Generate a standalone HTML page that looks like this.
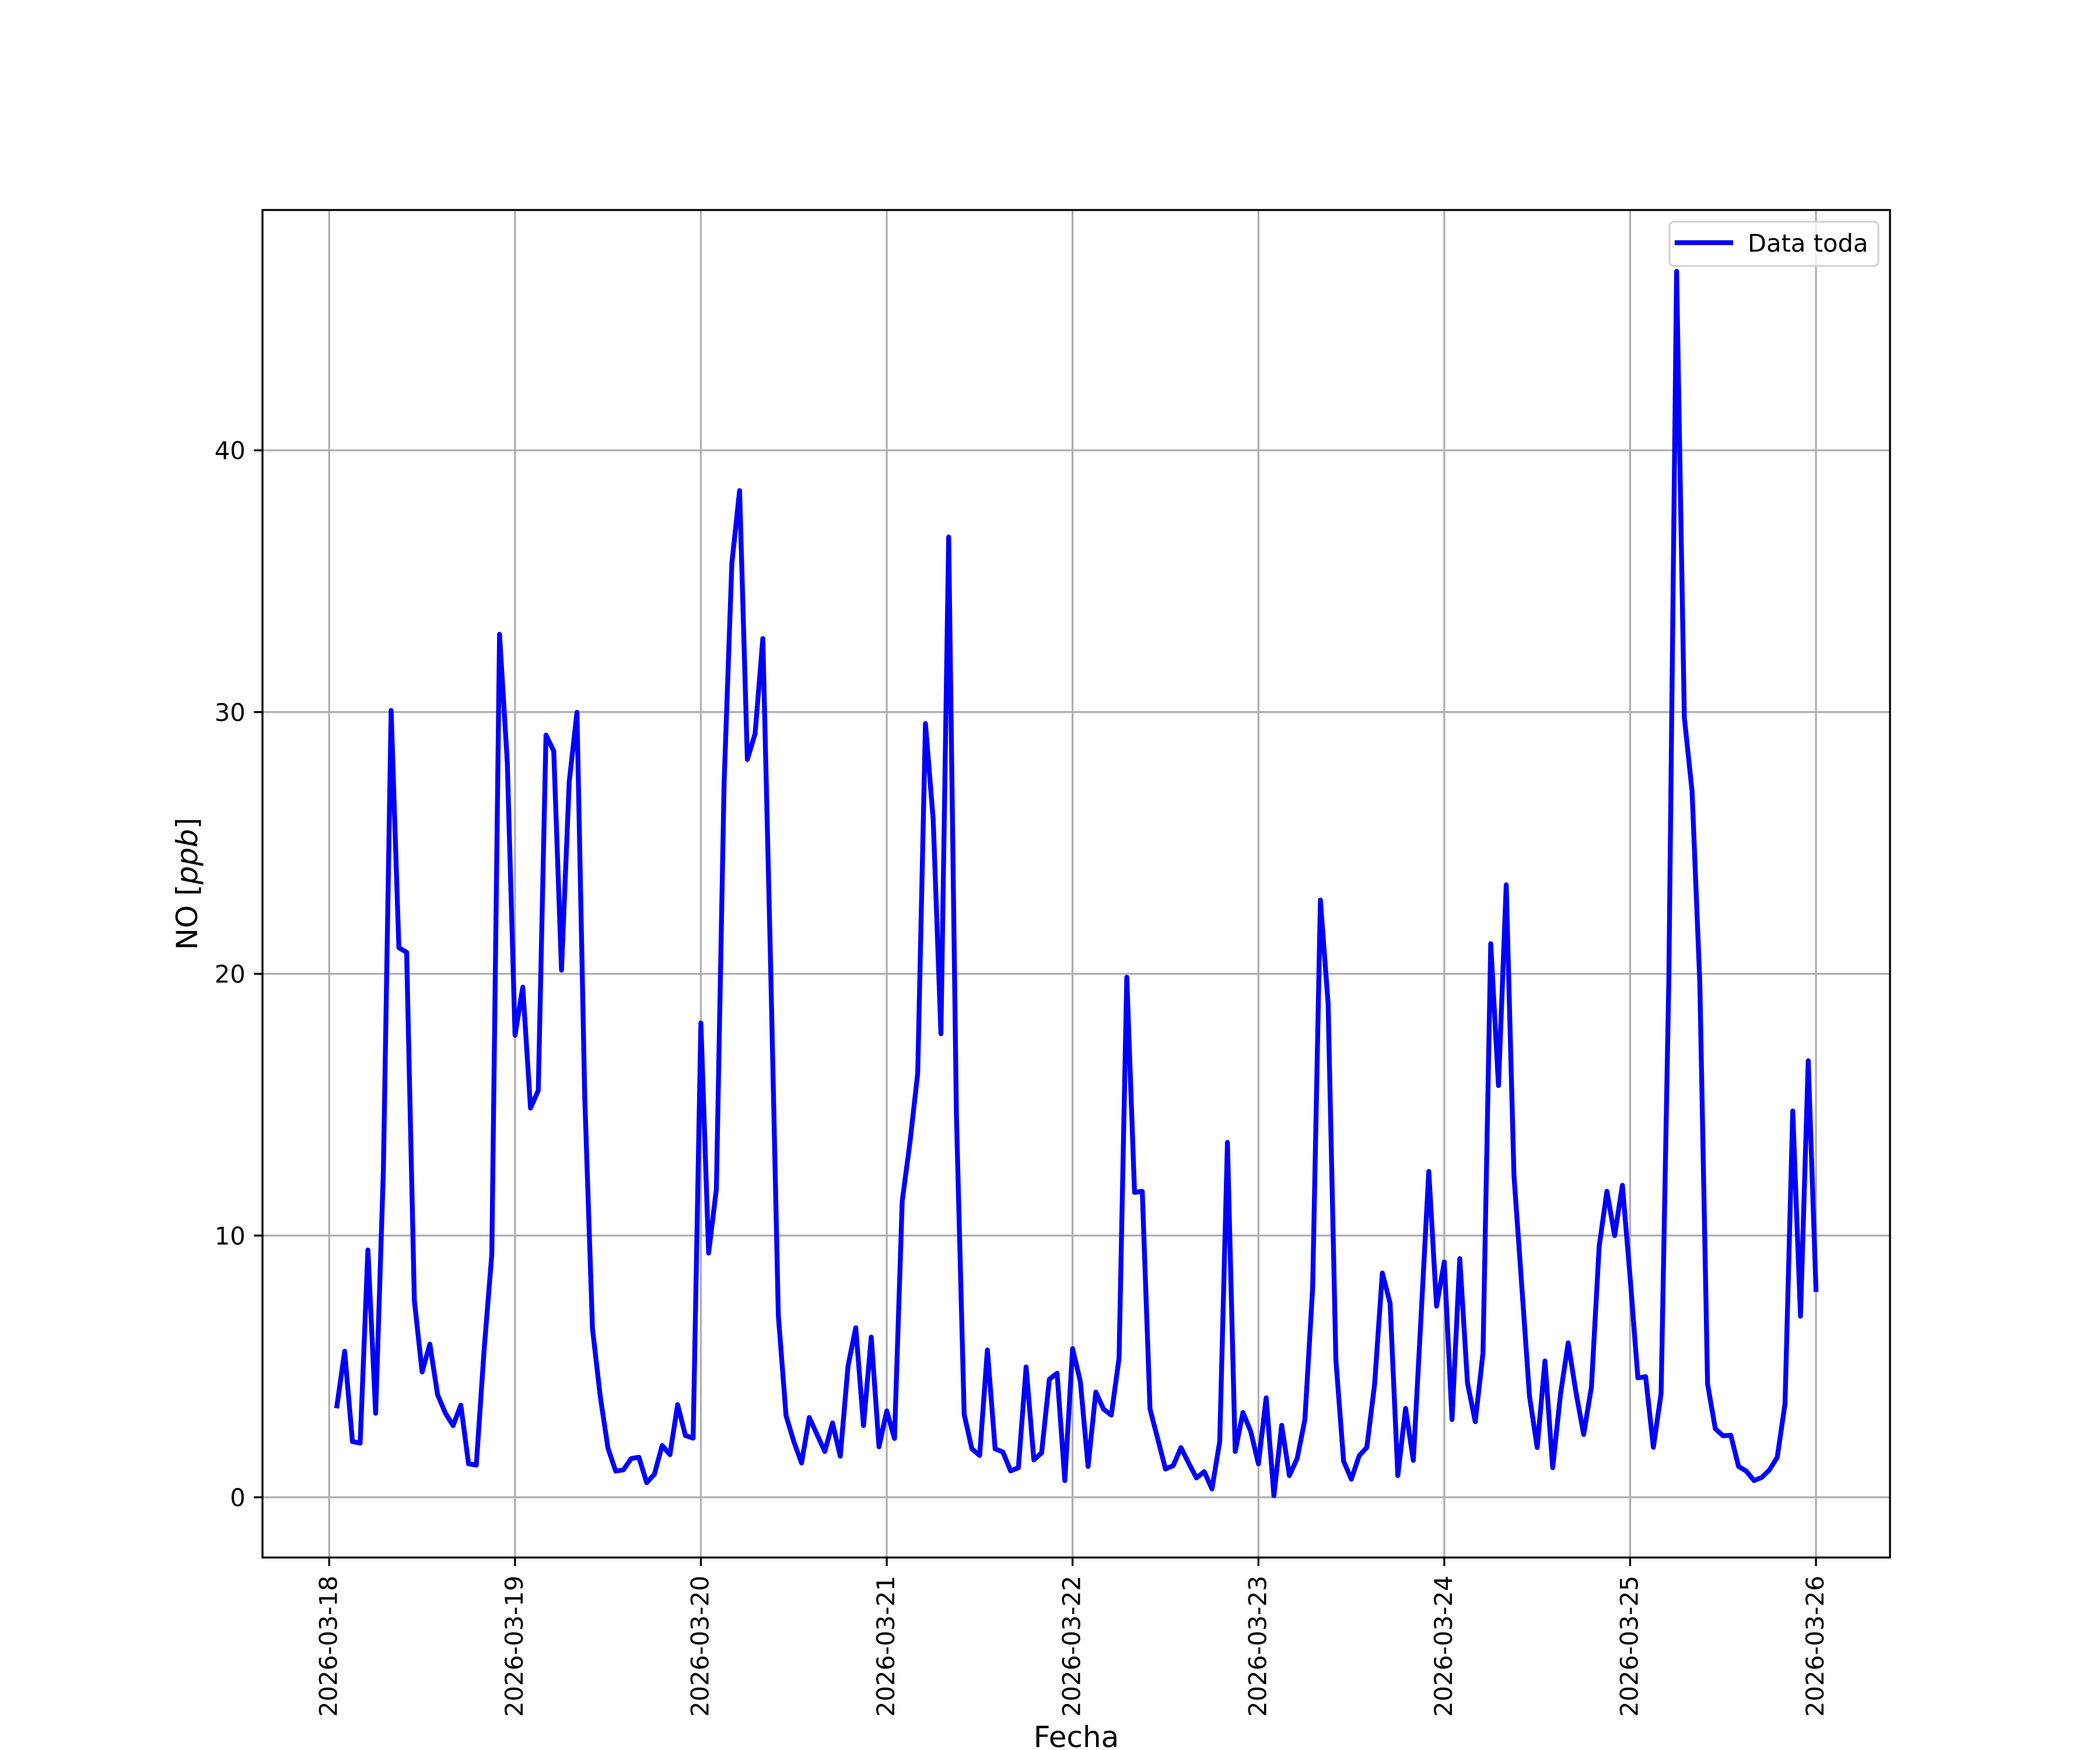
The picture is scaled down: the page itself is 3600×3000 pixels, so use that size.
<!DOCTYPE html>
<html>
<head>
<meta charset="utf-8">
<style>
html,body{margin:0;padding:0;background:#fff;}
svg{display:block;}
text{font-family:"DejaVu Sans","Liberation Sans",sans-serif;fill:#000;}
</style>
</head>
<body>
<svg width="3600" height="3000" viewBox="0 0 3600 3000" xmlns="http://www.w3.org/2000/svg">
<rect x="0" y="0" width="3600" height="3000" fill="#fff"/>
<!-- grid -->
<g stroke="#b0b0b0" stroke-width="3.33" fill="none">
<line x1="564.3" y1="360" x2="564.3" y2="2670"/>
<line x1="882.9" y1="360" x2="882.9" y2="2670"/>
<line x1="1201.5" y1="360" x2="1201.5" y2="2670"/>
<line x1="1520.1" y1="360" x2="1520.1" y2="2670"/>
<line x1="1838.7" y1="360" x2="1838.7" y2="2670"/>
<line x1="2157.3" y1="360" x2="2157.3" y2="2670"/>
<line x1="2475.9" y1="360" x2="2475.9" y2="2670"/>
<line x1="2794.5" y1="360" x2="2794.5" y2="2670"/>
<line x1="3113.1" y1="360" x2="3113.1" y2="2670"/>
<line x1="450" y1="2566.8" x2="3240" y2="2566.8"/>
<line x1="450" y1="2118.1" x2="3240" y2="2118.1"/>
<line x1="450" y1="1669.4" x2="3240" y2="1669.4"/>
<line x1="450" y1="1220.7" x2="3240" y2="1220.7"/>
<line x1="450" y1="772.0" x2="3240" y2="772.0"/>
</g>
<!-- data line -->
<g transform="matrix(13.275 0 0 -44.87 564.3 2566.8)">
<polyline fill="none" stroke="#0000ff" stroke-width="8.33" stroke-linejoin="round" stroke-linecap="square" vector-effect="non-scaling-stroke"
points="1,3.49 2,5.58 3,2.13 4,2.07 5,9.45 6,3.21 7,12.5 8,30.06 9,21.0 10,20.82 11,7.52 12,4.79 13,5.85 14,3.92 15,3.22 16,2.74 17,3.52 18,1.28 19,1.23 20,5.6 21,9.28 22,32.97 23,28.1 24,17.65 25,19.49 26,14.87 27,15.54 28,29.12 29,28.51 30,20.14 31,27.34 32,29.99 33,15.31 34,6.45 35,3.87 36,1.88 37,1.0 38,1.05 39,1.48 40,1.53 41,0.56 42,0.88 43,1.98 44,1.63 45,3.54 46,2.36 47,2.26 48,18.12 49,9.33 50,11.77 51,27.3 52,35.69 53,38.46 54,28.19 55,29.17 56,32.81 57,20.4 58,6.95 59,3.12 60,2.13 61,1.31 62,3.05 63,2.4 64,1.75 65,2.84 66,1.57 67,5.01 68,6.48 69,2.74 70,6.12 71,1.93 72,3.3 73,2.25 74,11.32 75,13.56 76,16.2 77,29.56 78,25.9 79,17.71 80,36.69 81,14.58 82,3.17 83,1.85 84,1.6 85,5.63 86,1.85 87,1.73 88,1.01 89,1.13 90,4.98 91,1.43 92,1.7 93,4.51 94,4.74 95,0.64 96,5.68 97,4.43 98,1.18 99,4.02 100,3.37 101,3.14 102,5.31 103,19.87 104,11.65 105,11.69 106,3.37 107,2.23 108,1.08 109,1.21 110,1.9 111,1.3 112,0.74 113,0.98 114,0.32 115,2.13 116,13.56 117,1.75 118,3.24 119,2.52 120,1.28 121,3.8 122,0.06 123,2.75 124,0.83 125,1.48 126,2.97 127,7.99 128,22.82 129,18.86 130,5.26 131,1.38 132,0.69 133,1.58 134,1.91 135,4.31 136,8.57 137,7.42 138,0.83 139,3.4 140,1.41 141,6.9 142,12.45 143,7.3 144,8.99 145,2.97 146,9.12 147,4.36 148,2.89 149,5.51 150,21.15 151,15.73 152,23.4 153,12.29 154,8.1 155,3.87 156,1.9 157,5.21 158,1.13 159,3.92 160,5.9 161,4.02 162,2.4 163,4.21 164,9.58 165,11.69 166,10.0 167,11.92 168,8.4 169,4.56 170,4.61 171,1.91 172,3.97 173,19.8 174,46.84 175,29.79 176,26.97 177,19.65 178,4.33 179,2.62 180,2.35 181,2.37 182,1.18 183,1.0 184,0.64 185,0.76 186,1.05 187,1.53 188,3.57 189,14.76 190,6.92 191,16.68 192,7.94"/>
</g>
<!-- spines -->
<rect x="450" y="360" width="2790" height="2310" fill="none" stroke="#000" stroke-width="3.33" stroke-linejoin="miter"/>
<!-- ticks -->
<g stroke="#000" stroke-width="3.33">
<line x1="564.3" y1="2670" x2="564.3" y2="2684.6"/>
<line x1="882.9" y1="2670" x2="882.9" y2="2684.6"/>
<line x1="1201.5" y1="2670" x2="1201.5" y2="2684.6"/>
<line x1="1520.1" y1="2670" x2="1520.1" y2="2684.6"/>
<line x1="1838.7" y1="2670" x2="1838.7" y2="2684.6"/>
<line x1="2157.3" y1="2670" x2="2157.3" y2="2684.6"/>
<line x1="2475.9" y1="2670" x2="2475.9" y2="2684.6"/>
<line x1="2794.5" y1="2670" x2="2794.5" y2="2684.6"/>
<line x1="3113.1" y1="2670" x2="3113.1" y2="2684.6"/>
<line x1="435.4" y1="2566.8" x2="450" y2="2566.8"/>
<line x1="435.4" y1="2118.1" x2="450" y2="2118.1"/>
<line x1="435.4" y1="1669.4" x2="450" y2="1669.4"/>
<line x1="435.4" y1="1220.7" x2="450" y2="1220.7"/>
<line x1="435.4" y1="772.0" x2="450" y2="772.0"/>
</g>
<!-- y tick labels -->
<g font-size="41.67" text-anchor="end">
<text x="420.8" y="2582">0</text>
<text x="420.8" y="2133.3">10</text>
<text x="420.8" y="1684.6">20</text>
<text x="420.8" y="1235.9">30</text>
<text x="420.8" y="787.2">40</text>
</g>
<!-- x tick labels -->
<g font-size="41.67" text-anchor="end">
<text transform="translate(577.3,2701) rotate(-90)">2026-03-18</text>
<text transform="translate(895.9,2701) rotate(-90)">2026-03-19</text>
<text transform="translate(1214.5,2701) rotate(-90)">2026-03-20</text>
<text transform="translate(1533.1,2701) rotate(-90)">2026-03-21</text>
<text transform="translate(1851.7,2701) rotate(-90)">2026-03-22</text>
<text transform="translate(2170.3,2701) rotate(-90)">2026-03-23</text>
<text transform="translate(2488.9,2701) rotate(-90)">2026-03-24</text>
<text transform="translate(2807.5,2701) rotate(-90)">2026-03-25</text>
<text transform="translate(3126.1,2701) rotate(-90)">2026-03-26</text>
</g>
<!-- axis labels -->
<text x="1845" y="2995" font-size="50" text-anchor="middle">Fecha</text>
<text transform="translate(338,1515) rotate(-90)" font-size="50" text-anchor="middle">NO [<tspan font-style="italic">ppb</tspan>]</text>
<!-- legend -->
<rect x="2862" y="380" width="358" height="76" rx="8" ry="8" fill="#fff" fill-opacity="0.8" stroke="#d4d4d4" stroke-width="3.33"/>
<line x1="2875" y1="416" x2="2967" y2="416" stroke="#0000ff" stroke-width="8.33" stroke-linecap="square"/>
<text x="2996" y="431.7" font-size="41.67">Data toda</text>
</svg>
</body>
</html>
